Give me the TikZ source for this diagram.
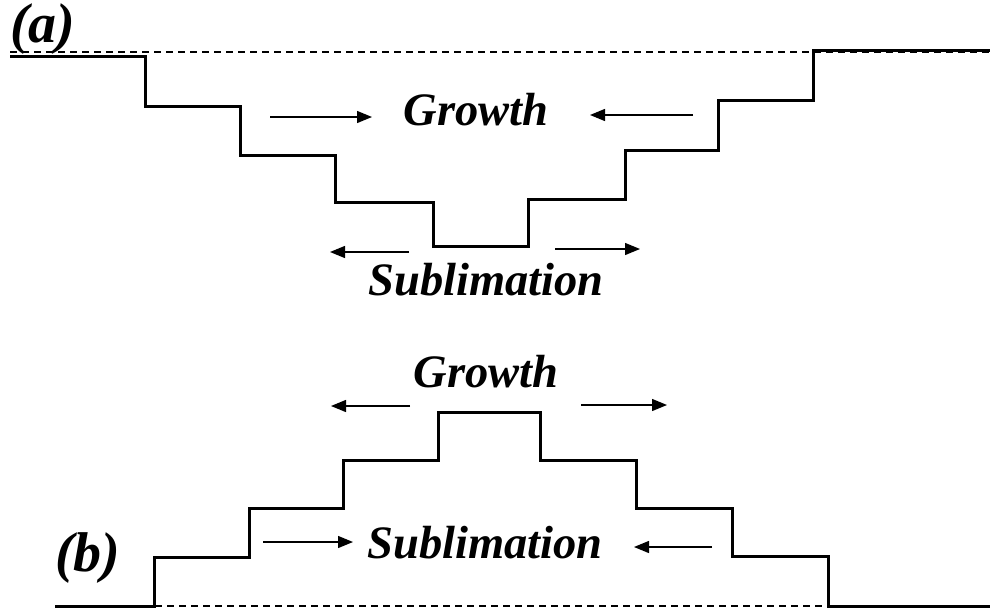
\documentclass[tikz,border=0pt]{standalone}
\usepackage{fontspec}
\setmainfont[Ligatures=NoCommon]{Liberation Serif}
\usetikzlibrary{arrows.meta}
\begin{document}
\begin{tikzpicture}[x=1pt,y=-1pt,
  stair/.style={line width=3pt,line join=miter},
  ref/.style={line width=1.2pt,dash pattern=on 7pt off 5pt},
  flow/.style={line width=1.3pt,-{Triangle[length=15pt,width=12pt]}},
  word/.style={inner sep=0pt,anchor=base,font=\fontsize{46.5}{50}\selectfont\bfseries\itshape},
  tag/.style={inner sep=0pt,anchor=base west,font=\fontsize{56}{60}\selectfont\bfseries\itshape}]
\useasboundingbox (0,0) rectangle (992,610);
% ---------- (a) ----------
\draw[ref] (10,52) -- (990,52);
\draw[stair] (10,57) -- (145,57) -- (145,106) -- (240,106) -- (240,155) -- (335,155) -- (335,202)
  -- (433,202) -- (433,246) -- (528,246) -- (528,199) -- (625,199) -- (625,150) -- (718,150)
  -- (718,100) -- (813,100) -- (813,51) -- (990,51);
\node[tag] (la) at (10,43) {(a)};
\node[word] (ga) at (476,125) {Growth};
\node[word] (sa) at (486,295) {Sublimation};
\coordinate (ga1s) at (270,117); \coordinate (ga1e) at (372,117);
\coordinate (ga2s) at (693,115); \coordinate (ga2e) at (590,115);
\coordinate (sa1s) at (409,252); \coordinate (sa1e) at (330,252);
\coordinate (sa2s) at (555,249); \coordinate (sa2e) at (640,249);
\draw[flow] (ga1s) -- (ga1e);
\draw[flow] (ga2s) -- (ga2e);
\draw[flow] (sa1s) -- (sa1e);
\draw[flow] (sa2s) -- (sa2e);
% ---------- (b) ----------
\draw[ref] (155,606) -- (985,606);
\draw[stair] (55,606) -- (154,606) -- (154,557) -- (249,557) -- (249,508) -- (343,508) -- (343,460)
  -- (438,460) -- (438,412) -- (540,412) -- (540,460) -- (636,460) -- (636,508) -- (732,508)
  -- (732,556) -- (828,556) -- (828,606) -- (990,606);
\node[tag] (lb) at (55,571) {(b)};
\node[word] (gb) at (486,387) {Growth};
\node[word] (sb) at (485,558) {Sublimation};
\coordinate (gb1s) at (410,406); \coordinate (gb1e) at (331,406);
\coordinate (gb2s) at (581,405); \coordinate (gb2e) at (667,405);
\coordinate (sb1s) at (263,542); \coordinate (sb1e) at (353,542);
\coordinate (sb2s) at (712,547); \coordinate (sb2e) at (634,547);
\draw[flow] (gb1s) -- (gb1e);
\draw[flow] (gb2s) -- (gb2e);
\draw[flow] (sb1s) -- (sb1e);
\draw[flow] (sb2s) -- (sb2e);
\end{tikzpicture}
\end{document}
